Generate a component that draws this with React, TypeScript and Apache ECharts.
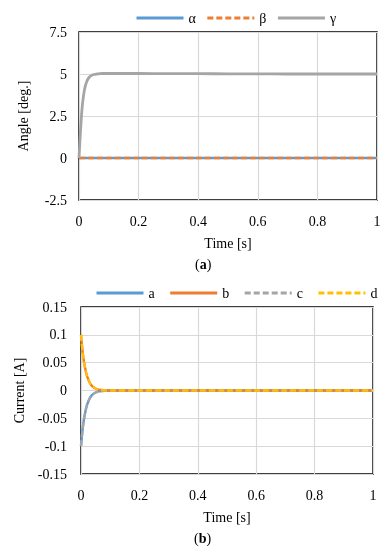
import React, { useEffect, useRef } from "react";
import * as echarts from "echarts";

const TIME = [0, 0.005, 0.01, 0.015, 0.02, 0.025, 0.03, 0.035, 0.04, 0.05, 0.06, 0.07, 0.08, 0.1, 0.2, 0.3, 0.4, 0.5, 0.6, 0.7, 0.8, 0.9, 1];
const ALPHA = [0, 0, 0, 0, 0, 0, 0, 0, 0, 0, 0, 0, 0, 0, 0, 0, 0, 0, 0, 0, 0, 0, 0];
const BETA = [0, 0, 0, 0, 0, 0, 0, 0, 0, 0, 0, 0, 0, 0, 0, 0, 0, 0, 0, 0, 0, 0, 0];
const GAMMA = [0, 1.6, 2.9, 3.7, 4.2, 4.5, 4.7, 4.82, 4.9, 4.97, 5.0, 5.02, 5.03, 5.03, 5.03, 5.02, 5.02, 5.01, 5.01, 5.0, 5.0, 5.0, 5.0];

const CUR_A = [-0.1, -0.072, -0.052, -0.038, -0.027, -0.02, -0.014, -0.01, -0.007, -0.0035, -0.0017, -0.0008, -0.0004, 0, 0, 0, 0, 0, 0, 0, 0, 0, 0];
const CUR_B = [0.1, 0.072, 0.052, 0.038, 0.027, 0.02, 0.014, 0.01, 0.007, 0.0035, 0.0017, 0.0008, 0.0004, 0, 0, 0, 0, 0, 0, 0, 0, 0, 0];
const CUR_C = [-0.1, -0.072, -0.052, -0.038, -0.027, -0.02, -0.014, -0.01, -0.007, -0.0035, -0.0017, -0.0008, -0.0004, 0, 0, 0, 0, 0, 0, 0, 0, 0, 0];
const CUR_D = [0.1, 0.072, 0.052, 0.038, 0.027, 0.02, 0.014, 0.01, 0.007, 0.0035, 0.0017, 0.0008, 0.0004, 0, 0, 0, 0, 0, 0, 0, 0, 0, 0];

const ANGLE_NAMES = ["α", "β", "γ"];
const CURRENT_NAMES = ["a", "b", "c", "d"];

const FONT = "'Liberation Serif', 'Times New Roman', serif";
const BLUE = "#5B9BD5";
const ORANGE = "#ED7D31";
const GRAY = "#A5A5A5";
const YELLOW = "#FFC000";

const pairs = (ys: number[]) => TIME.map((t, i) => [t, ys[i]]);

export default function App() {
  const ref = useRef<HTMLDivElement>(null);
  useEffect(() => {
    const chart = echarts.init(ref.current!, null, { renderer: "svg" });
    const textStyle = { fontFamily: FONT, fontSize: 14, color: "#000" };
    const xAxisBase = (gridIndex: number) => ({
      type: "value",
      gridIndex,
      min: 0,
      max: 1,
      interval: 0.2,
      name: "Time [s]",
      nameLocation: "middle",
      nameGap: 36,
      nameTextStyle: textStyle,
      axisLine: { show: false },
      axisTick: { show: false },
      axisLabel: { ...textStyle, margin: 14 },
      splitLine: { show: true, lineStyle: { color: "#D9D9D9", width: 1.2 } },
    });
    const line = (name: string, data: number[], color: string, idx: number, dashed: boolean, width = 2.4) => ({
      type: "line",
      name,
      xAxisIndex: idx,
      yAxisIndex: idx,
      data: pairs(data),
      showSymbol: false,
      symbol: "none",
      smooth: 0.3,
      lineStyle: { color, width, type: dashed ? [6, 3] : "solid" },
      itemStyle: { color },
    });
    const legendCommon = {
      padding: 0,
      itemWidth: 47,
      itemHeight: 12,
      textStyle: textStyle,
      lineStyle: { width: 3 },
      itemStyle: { color: "transparent", borderWidth: 0, opacity: 0 },
    };
    chart.setOption({
      animation: false,
      textStyle: { fontFamily: FONT },
      grid: [
        { left: 79, top: 32, width: 298, height: 168, show: true, borderColor: "#000", borderWidth: 1.5, backgroundColor: "transparent" },
        { left: 81, top: 307, width: 292, height: 167, show: true, borderColor: "#000", borderWidth: 1.5, backgroundColor: "transparent" },
      ],
      legend: [
        { ...legendCommon, data: ANGLE_NAMES, left: 135, top: 11, itemGap: 10 },
        { ...legendCommon, data: CURRENT_NAMES, left: 95, top: 286, itemGap: 14 },
      ],
      xAxis: [xAxisBase(0), xAxisBase(1)],
      yAxis: [
        {
          type: "value",
          gridIndex: 0,
          min: -2.5,
          max: 7.5,
          interval: 2.5,
          name: "Angle [deg.]",
          nameLocation: "middle",
          nameGap: 49,
          nameTextStyle: textStyle,
          axisLine: { show: false },
          axisTick: { show: false },
          axisLabel: { ...textStyle, margin: 12 },
          splitLine: { show: true, lineStyle: { color: "#D9D9D9", width: 1.2 } },
        },
        {
          type: "value",
          gridIndex: 1,
          min: -0.15,
          max: 0.15,
          interval: 0.05,
          name: "Current [A]",
          nameLocation: "middle",
          nameGap: 48,
          nameTextStyle: textStyle,
          axisLine: { show: false },
          axisTick: { show: false },
          axisLabel: { ...textStyle, margin: 14 },
          splitLine: { show: true, lineStyle: { color: "#D9D9D9", width: 1.2 } },
        },
      ],
      graphic: [
        {
          type: "text",
          left: 195,
          top: 257,
          style: { text: "({b|a})", font: `14px ${FONT}`, fill: "#000", rich: { b: { fontWeight: "bold", fontSize: 14, fontFamily: FONT } } },
        },
        {
          type: "text",
          left: 194,
          top: 531,
          style: { text: "({b|b})", font: `14px ${FONT}`, fill: "#000", rich: { b: { fontWeight: "bold", fontSize: 14, fontFamily: FONT } } },
        },
      ],
      series: [
        line("α", ALPHA, BLUE, 0, false),
        line("β", BETA, ORANGE, 0, true),
        line("γ", GAMMA, GRAY, 0, false, 2.8),
        line("a", CUR_A, BLUE, 1, false),
        line("b", CUR_B, ORANGE, 1, false),
        line("c", CUR_C, GRAY, 1, true),
        line("d", CUR_D, YELLOW, 1, true),
      ],
    });
    return () => chart.dispose();
  }, []);
  return <div ref={ref} style={{ position: "fixed", left: 0, top: 0, width: 388, height: 550 }} />;
}
